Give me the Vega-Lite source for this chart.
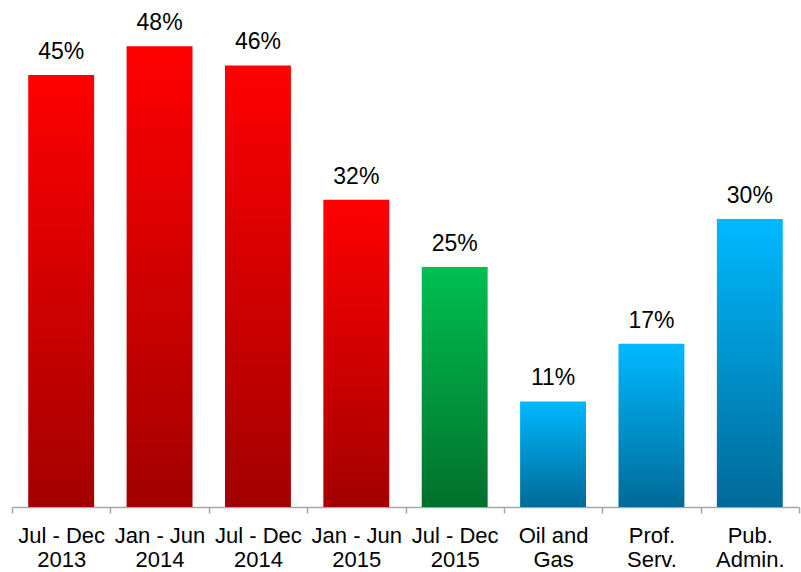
{
  "$schema": "https://vega.github.io/schema/vega-lite/v6.json",
  "width": 787,
  "height": 480,
  "autosize": {"type": "none"},
  "padding": {"left": 12, "top": 27, "right": 2, "bottom": 65},
  "background": "white",
  "config": {"view": {"stroke": null}, "font": "Liberation Sans"},
  "data": {
    "values": [
      {"category": "Jul - Dec|2013", "value": 0.45, "group": "past"},
      {"category": "Jan - Jun|2014", "value": 0.48, "group": "past"},
      {"category": "Jul - Dec|2014", "value": 0.46, "group": "past"},
      {"category": "Jan - Jun|2015", "value": 0.32, "group": "past"},
      {"category": "Jul - Dec|2015", "value": 0.25, "group": "current"},
      {"category": "Oil and|Gas", "value": 0.11, "group": "sector"},
      {"category": "Prof.|Serv.", "value": 0.17, "group": "sector"},
      {"category": "Pub.|Admin.", "value": 0.30, "group": "sector"}
    ]
  },
  "encoding": {
    "x": {
      "field": "category",
      "type": "nominal",
      "sort": null,
      "scale": {"paddingInner": 0, "paddingOuter": 0},
      "axis": {
        "title": null,
        "labelAngle": 0,
        "labelExpr": "split(datum.label, '|')",
        "labelFont": "Liberation Sans",
        "labelFontSize": 22,
        "labelColor": "#000000",
        "labelLineHeight": 24,
        "labelPadding": 12,
        "tickBand": "extent",
        "tickSize": 6,
        "tickColor": "#A6A6A6",
        "domainColor": "#A6A6A6",
        "domainWidth": 1.5,
        "tickWidth": 1.5,
        "grid": false
      }
    },
    "y": {
      "field": "value",
      "type": "quantitative",
      "scale": {"domain": [0, 0.5]},
      "axis": null
    }
  },
  "layer": [
    {
      "transform": [{"filter": "datum.group === 'past'"}],
      "mark": {
        "type": "bar",
        "width": {"band": 0.67},
        "color": {
          "gradient": "linear",
          "x1": 0, "y1": 0, "x2": 0, "y2": 1,
          "stops": [{"offset": 0, "color": "#FF0000"}, {"offset": 1, "color": "#A30000"}]
        }
      }
    },
    {
      "transform": [{"filter": "datum.group === 'current'"}],
      "mark": {
        "type": "bar",
        "width": {"band": 0.67},
        "color": {
          "gradient": "linear",
          "x1": 0, "y1": 0, "x2": 0, "y2": 1,
          "stops": [{"offset": 0, "color": "#00C050"}, {"offset": 1, "color": "#00702C"}]
        }
      }
    },
    {
      "transform": [{"filter": "datum.group === 'sector'"}],
      "mark": {
        "type": "bar",
        "width": {"band": 0.67},
        "color": {
          "gradient": "linear",
          "x1": 0, "y1": 0, "x2": 0, "y2": 1,
          "stops": [{"offset": 0, "color": "#00B9FF"}, {"offset": 1, "color": "#006A98"}]
        }
      }
    },
    {
      "mark": {
        "type": "text",
        "baseline": "alphabetic",
        "dy": -16,
        "fontSize": 23,
        "font": "Liberation Sans",
        "color": "#000000"
      },
      "encoding": {
        "text": {"field": "value", "type": "quantitative", "format": ".0%"}
      }
    }
  ]
}
